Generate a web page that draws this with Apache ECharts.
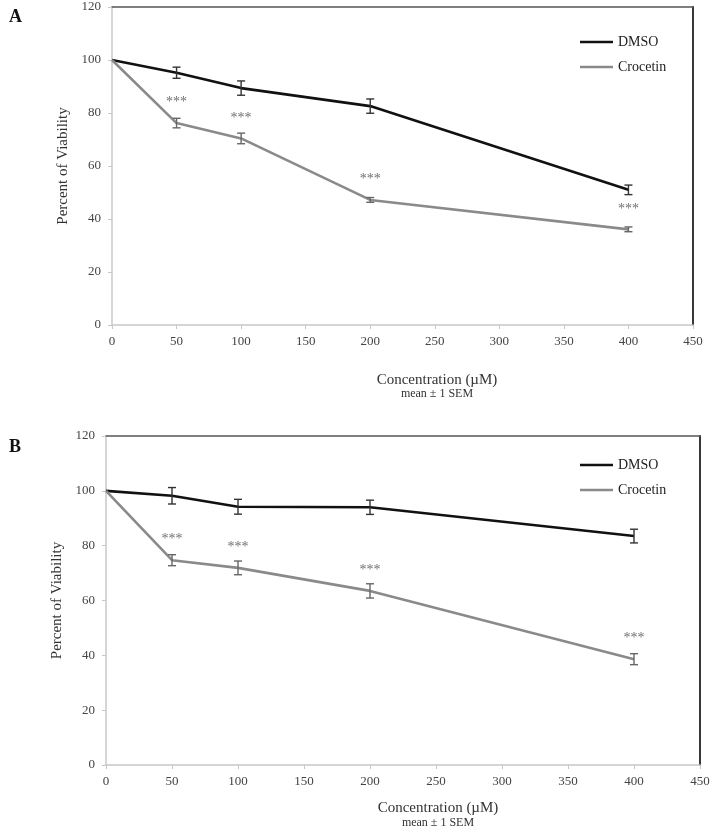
<!DOCTYPE html>
<html>
<head>
<meta charset="utf-8">
<script src="https://cdn.jsdelivr.net/npm/echarts@6/dist/echarts.min.js"></script>
<style>
html,body{margin:0;padding:0;background:#fff;}
#chart{width:713px;height:835px;}
</style>
</head>
<body>
<div id="chart"></div>
<script>
// ---- data ----
const concentrations = [0, 50, 100, 200, 400];
const seriesNames = ['DMSO', 'Crocetin'];
const sigMarks = ['', '***', '***', '***', '***'];

const dmsoA = [100, 95.2, 89.4, 82.6, 51.0];
const dmsoSemA = [0, 2.1, 2.7, 2.7, 1.8];
const crocA = [100, 76.2, 70.4, 47.2, 36.1];
const crocSemA = [0, 1.8, 2.0, 0.9, 0.9];

const dmsoB = [100, 98.2, 94.2, 94.0, 83.5];
const dmsoSemB = [0, 3.0, 2.7, 2.6, 2.5];
const crocB = [100, 74.7, 71.9, 63.5, 38.6];
const crocSemB = [0, 2.0, 2.5, 2.6, 2.0];

const xTicks = { min: 0, max: 450, interval: 50 };
const yTicks = { min: 0, max: 120, interval: 20 };

// ---- styling ----
const FONT = '"Liberation Serif", "DejaVu Serif", serif';
const DMSO_COLOR = '#111111';
const CROC_COLOR = '#8a8a8a';

const chart = echarts.init(document.getElementById('chart'));

function pairs(xs, ys) { return xs.map((x, i) => [x, ys[i]]); }
function errData(xs, ys, es) {
  return xs.map((x, i) => [x, ys[i] - es[i], ys[i] + es[i]]).filter((d, i) => es[i] > 0);
}
function errSeries(grid, xs, ys, es, color) {
  return {
    type: 'custom',
    xAxisIndex: grid * 3, yAxisIndex: grid * 3,
    silent: true, z: 4,
    data: errData(xs, ys, es),
    renderItem: function (params, api) {
      const x = api.value(0);
      const lo = api.coord([x, api.value(1)]);
      const hi = api.coord([x, api.value(2)]);
      const w = 4;
      const style = { stroke: color, lineWidth: 1.4, fill: null };
      return {
        type: 'group',
        children: [
          { type: 'line', shape: { x1: lo[0], y1: lo[1], x2: hi[0], y2: hi[1] }, style: style },
          { type: 'line', shape: { x1: lo[0] - w, y1: lo[1], x2: lo[0] + w, y2: lo[1] }, style: style },
          { type: 'line', shape: { x1: hi[0] - w, y1: hi[1], x2: hi[0] + w, y2: hi[1] }, style: style }
        ]
      };
    }
  };
}
function lineSeries(grid, name, xs, ys, color) {
  return {
    name: name, type: 'line',
    xAxisIndex: grid * 3, yAxisIndex: grid * 3,
    showSymbol: false, symbol: 'none',
    lineStyle: { color: color, width: 2.6 },
    itemStyle: { color: color },
    z: 3,
    data: pairs(xs, ys)
  };
}
function starSeries(grid, xs, ys, marks) {
  return {
    type: 'scatter',
    xAxisIndex: grid * 3, yAxisIndex: grid * 3,
    silent: true, z: 5,
    symbol: 'circle', symbolSize: 1,
    itemStyle: { color: 'rgba(0,0,0,0)' },
    data: pairs(xs, ys).map((p, i) => ({ value: p, mark: marks[i] })).filter(d => d.mark).map(d => ({
      value: d.value,
      label: {
        show: true, formatter: d.mark, position: 'top', distance: 13,
        fontFamily: FONT, fontSize: 14, color: '#4a4a4a'
      }
    }))
  };
}

const grids = [
  { left: 112, right: 20, top: 7, bottom: 510 },
  { left: 106, right: 13, top: 436, bottom: 70 }
];

const xAxes = [], yAxes = [];
grids.forEach((g, gi) => {
  xAxes.push({
    gridIndex: gi, type: 'value', min: xTicks.min, max: xTicks.max, interval: xTicks.interval,
    axisLine: { onZero: false, lineStyle: { color: '#c8c8c8', width: 1.5 } },
    axisTick: { show: true, length: 4, lineStyle: { color: '#c8c8c8' } },
    axisLabel: { fontFamily: FONT, fontSize: 13, color: '#444', margin: 10 },
    splitLine: { show: false }
  });
  xAxes.push({
    gridIndex: gi, type: 'value', position: 'top', min: xTicks.min, max: xTicks.max,
    axisLine: { show: true, onZero: false, lineStyle: { color: '#555', width: 1.6 } },
    axisTick: { show: false }, axisLabel: { show: false }, splitLine: { show: false }
  });
  xAxes.push({
    gridIndex: gi, type: 'value', show: false, min: xTicks.min, max: xTicks.max
  });
  yAxes.push({
    gridIndex: gi, type: 'value', min: yTicks.min, max: yTicks.max, interval: yTicks.interval,
    name: 'Percent of Viability', nameLocation: 'middle', nameGap: 38,
    nameTextStyle: { fontFamily: FONT, fontSize: 15, color: '#333' },
    axisLine: { show: true, onZero: false, lineStyle: { color: '#c8c8c8', width: 1.5 } },
    axisTick: { show: true, length: 4, lineStyle: { color: '#c8c8c8' } },
    axisLabel: { fontFamily: FONT, fontSize: 13, color: '#444', margin: 11 },
    splitLine: { show: false }
  });
  yAxes.push({
    gridIndex: gi, type: 'value', position: 'right', min: yTicks.min, max: yTicks.max,
    axisLine: { show: true, onZero: false, lineStyle: { color: '#222', width: 1.8 } },
    axisTick: { show: false }, axisLabel: { show: false }, splitLine: { show: false }
  });
  yAxes.push({
    gridIndex: gi, type: 'value', show: false, min: yTicks.min, max: yTicks.max
  });
});

const option = {
  animation: false,
  backgroundColor: '#fff',
  title: [
    { text: 'A', left: 4, top: 3, textStyle: { fontFamily: FONT, fontSize: 18, fontWeight: 'bold', color: '#111' } },
    { text: 'B', left: 4, top: 433, textStyle: { fontFamily: FONT, fontSize: 18, fontWeight: 'bold', color: '#111' } },
    { text: 'Concentration (\u00b5M)', left: 432, top: 368, textAlign: 'center',
      textStyle: { fontFamily: FONT, fontSize: 15, fontWeight: 'normal', color: '#333' } },
    { text: 'mean \u00b1 1 SEM', left: 432, top: 383, textAlign: 'center',
      textStyle: { fontFamily: FONT, fontSize: 12, fontWeight: 'normal', color: '#333' } },
    { text: 'Concentration (\u00b5M)', left: 433, top: 796, textAlign: 'center',
      textStyle: { fontFamily: FONT, fontSize: 15, fontWeight: 'normal', color: '#333' } },
    { text: 'mean \u00b1 1 SEM', left: 433, top: 812, textAlign: 'center',
      textStyle: { fontFamily: FONT, fontSize: 12, fontWeight: 'normal', color: '#333' } }
  ],
  legend: [
    { data: seriesNames, orient: 'vertical', left: 575, top: 30, icon: 'rect',
      itemWidth: 33, itemHeight: 2.5, itemGap: 11,
      textStyle: { fontFamily: FONT, fontSize: 14, color: '#222' } },
    { data: seriesNames, orient: 'vertical', left: 575, top: 453, icon: 'rect',
      itemWidth: 33, itemHeight: 2.5, itemGap: 11,
      textStyle: { fontFamily: FONT, fontSize: 14, color: '#222' } }
  ],
  grid: grids,
  xAxis: xAxes,
  yAxis: yAxes,
  series: [
    lineSeries(0, seriesNames[0], concentrations, dmsoA, DMSO_COLOR),
    lineSeries(0, seriesNames[1], concentrations, crocA, CROC_COLOR),
    errSeries(0, concentrations, dmsoA, dmsoSemA, '#333'),
    errSeries(0, concentrations, crocA, crocSemA, '#666'),
    starSeries(0, concentrations, crocA, sigMarks),
    lineSeries(1, seriesNames[0], concentrations, dmsoB, DMSO_COLOR),
    lineSeries(1, seriesNames[1], concentrations, crocB, CROC_COLOR),
    errSeries(1, concentrations, dmsoB, dmsoSemB, '#333'),
    errSeries(1, concentrations, crocB, crocSemB, '#666'),
    starSeries(1, concentrations, crocB, sigMarks)
  ]
};
chart.setOption(option);
</script>
</body>
</html>
